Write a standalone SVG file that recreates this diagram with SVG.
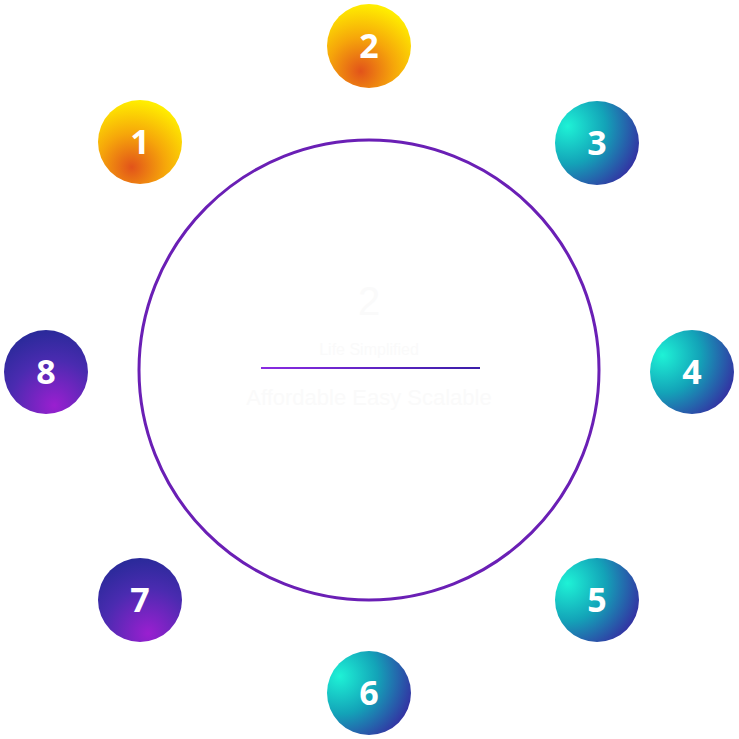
<svg xmlns="http://www.w3.org/2000/svg" width="739" height="739" viewBox="0 0 739 739">
<style>
.num{font-family:"Open Sans","Liberation Sans",sans-serif;font-weight:700;font-size:34px;fill:#fff;text-anchor:middle}
.faint{font-family:"Liberation Sans",sans-serif;fill:#fafafa;text-anchor:middle}
</style>
<defs>
<radialGradient id="gY" cx="0.4" cy="0.8" r="0.8"><stop offset="0" stop-color="#e2531a"/><stop offset="0.5" stop-color="#f6a60a"/><stop offset="1" stop-color="#ffee00"/></radialGradient>
<radialGradient id="gC" cx="0.15" cy="0.3" r="1"><stop offset="0" stop-color="#1ef2d6"/><stop offset="0.45" stop-color="#13a3b8"/><stop offset="1" stop-color="#3a1a9e"/></radialGradient>
<radialGradient id="gP" cx="0.6" cy="0.9" r="0.9"><stop offset="0" stop-color="#9a1fd0"/><stop offset="0.6" stop-color="#4a2bb0"/><stop offset="1" stop-color="#2a2a9a"/></radialGradient>
<linearGradient id="gL" gradientUnits="userSpaceOnUse" x1="261" y1="0" x2="480" y2="0"><stop offset="0" stop-color="#8a2be2"/><stop offset="1" stop-color="#3a1ea8"/></linearGradient>
</defs>
<rect width="739" height="739" fill="#fff"/>
<g id="center">
<circle cx="369" cy="370" r="230" fill="#fff" stroke="#6a1fb5" stroke-width="3"/>
<text class="faint" x="369" y="315" font-size="40">2</text>
<text class="faint" x="369" y="355" font-size="16">Life Simplified</text>
<line x1="261" y1="368" x2="480" y2="368" stroke="url(#gL)" stroke-width="2"/>
<text class="faint" x="369" y="405" font-size="22">Affordable Easy Scalable</text>
</g>
<g id="n1"><circle cx="140" cy="142" r="42" fill="url(#gY)"/><text class="num" x="140" y="154">1</text></g>
<g id="n2"><circle cx="369" cy="46" r="42" fill="url(#gY)"/><text class="num" x="369" y="58">2</text></g>
<g id="n3"><circle cx="597" cy="143" r="42" fill="url(#gC)"/><text class="num" x="597" y="155">3</text></g>
<g id="n4"><circle cx="692" cy="372" r="42" fill="url(#gC)"/><text class="num" x="692" y="384">4</text></g>
<g id="n5"><circle cx="597" cy="600" r="42" fill="url(#gC)"/><text class="num" x="597" y="612">5</text></g>
<g id="n6"><circle cx="369" cy="693" r="42" fill="url(#gC)"/><text class="num" x="369" y="705">6</text></g>
<g id="n7"><circle cx="140" cy="600" r="42" fill="url(#gP)"/><text class="num" x="140" y="612">7</text></g>
<g id="n8"><circle cx="46" cy="372" r="42" fill="url(#gP)"/><text class="num" x="46" y="384">8</text></g>
<g id="connectors"/>
</svg>
